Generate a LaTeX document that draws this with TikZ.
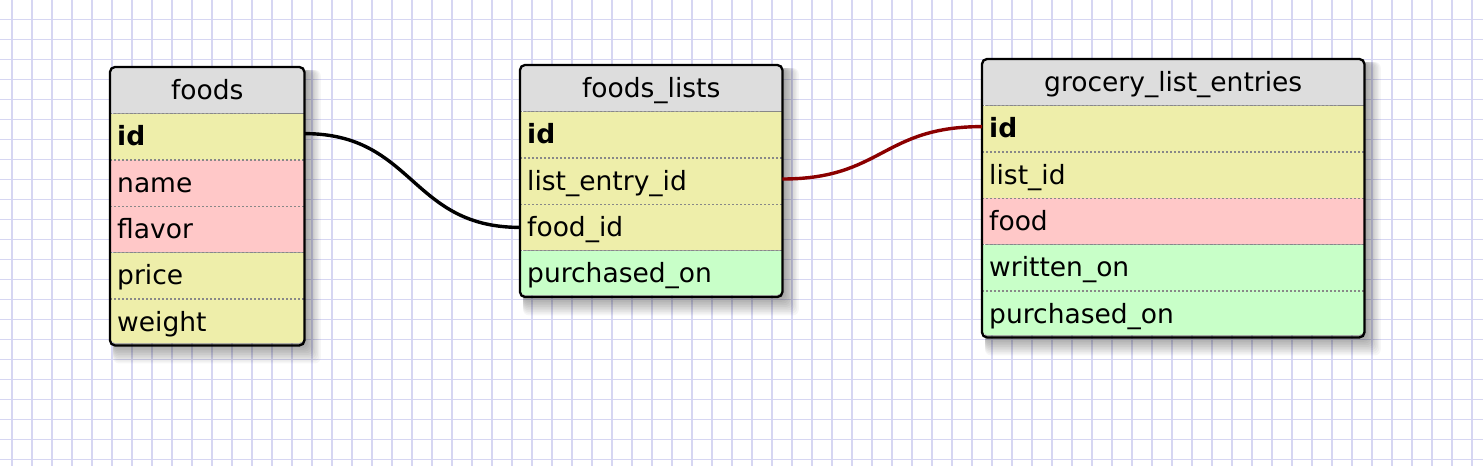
\documentclass[tikz,border=0pt]{standalone}
\usepackage{fontspec}
\setmainfont{DejaVu Sans}
\definecolor{gridc}{RGB}{214,214,242}
\definecolor{headc}{RGB}{221,221,221}
\definecolor{yelc}{RGB}{238,238,170}
\definecolor{pinkc}{RGB}{255,200,200}
\definecolor{greenc}{RGB}{200,255,200}
\definecolor{sepc}{RGB}{136,136,136}
\definecolor{linkred}{RGB}{139,0,0}
\newcommand\tabfont{\fontsize{26.5}{30}\selectfont}
\newcommand\tblshadow[4]{%
  \foreach \r in {1,...,12}{%
    \fill[black, opacity=0.035, rounded corners=6pt] (#1+3,#2+3) rectangle (#3+\r*1.4,#4+\r*1.7);
  }%
}
\begin{document}
\begin{tikzpicture}[x=1pt,y=-1pt,
  gridline/.style={draw=gridc, line width=1.6pt},
  cell/.style={rectangle, anchor=north west, inner xsep=7pt, inner ysep=0pt,
    minimum height=46pt, text height=21pt, text depth=3pt, font=\tabfont,
    align=left, text=black},
  hcell/.style={cell, align=center, fill=headc},
  ycell/.style={cell, fill=yelc},
  pcell/.style={cell, fill=pinkc},
  gcell/.style={cell, fill=greenc},
  sep/.style={draw=sepc, line width=1.4pt, dash pattern=on 2pt off 2pt},
  sepsolid/.style={draw=sepc, line width=1.6pt},
  frame/.style={draw=black, line width=2.3pt, rounded corners=5pt},
  link/.style={line width=3.4pt}
]
\useasboundingbox (0,0) rectangle (1483,466);
\fill[white] (0,0) rectangle (1483,466);
% grid
\foreach \i in {0,...,73}{\draw[gridline] (11.7+20*\i,0) -- (11.7+20*\i,466);}
\foreach \j in {0,...,22}{\draw[gridline] (0,19.5+20*\j) -- (1483,19.5+20*\j);}

% shadows
\tblshadow{110}{67}{304}{343}
\tblshadow{520}{65}{782}{295}
\tblshadow{982}{59}{1364}{335}

% ---- foods ----
\begin{scope}
\clip[rounded corners=5pt] (110,67) rectangle (304,343);
\node[hcell, text width=180pt] (foods-h) at (110,67) {foods};
\node[ycell, text width=180pt] (foods-id) at (foods-h.south west) {\textbf{id}};
\node[pcell, text width=180pt] (foods-name) at (foods-id.south west) {name};
\node[pcell, text width=180pt] (foods-flavor) at (foods-name.south west) {flavor};
\node[ycell, text width=180pt] (foods-price) at (foods-flavor.south west) {price};
\node[ycell, text width=180pt] (foods-weight) at (foods-price.south west) {weight};
\draw[sep] (foods-h.south west) -- ([xshift=-25pt]foods-h.south east);
\draw[sepsolid] ([xshift=-25pt]foods-h.south east) -- (foods-h.south east);
\foreach \n in {id,name,flavor,price}{\draw[sep] (foods-\n.south west) -- (foods-\n.south east);}
\end{scope}
\draw[frame] (foods-h.north west) rectangle (foods-weight.south east);

% ---- foods_lists ----
\begin{scope}
\clip[rounded corners=5pt] (520,65) rectangle (782,295);
\node[hcell, text width=248pt] (fl-h) at (520,65) {foods\_lists};
\node[ycell, text width=248pt] (fl-id) at (fl-h.south west) {\textbf{id}};
\node[ycell, text width=248pt] (fl-le) at (fl-id.south west) {list\_entry\_id};
\node[ycell, text width=248pt] (fl-food) at (fl-le.south west) {food\_id};
\node[gcell, text width=248pt] (fl-po) at (fl-food.south west) {purchased\_on};
\draw[sep] (fl-h.south west) -- ([xshift=-20pt]fl-h.south east);
\draw[sepsolid] ([xshift=-20pt]fl-h.south east) -- (fl-h.south east);
\foreach \n in {id,le,food}{\draw[sep] (fl-\n.south west) -- (fl-\n.south east);}
\end{scope}
\draw[frame] (fl-h.north west) rectangle (fl-po.south east);

% ---- grocery_list_entries ----
\begin{scope}
\clip[rounded corners=5pt] (982,59) rectangle (1364,335);
\node[hcell, text width=368pt] (gle-h) at (982,59) {grocery\_list\_entries};
\node[ycell, text width=368pt] (gle-id) at (gle-h.south west) {\textbf{id}};
\node[ycell, text width=368pt] (gle-list) at (gle-id.south west) {list\_id};
\node[pcell, text width=368pt] (gle-food) at (gle-list.south west) {food};
\node[gcell, text width=368pt] (gle-wo) at (gle-food.south west) {written\_on};
\node[gcell, text width=368pt] (gle-po) at (gle-wo.south west) {purchased\_on};
\draw[sep] (gle-h.south west) -- ([xshift=-24pt]gle-h.south east);
\draw[sepsolid] ([xshift=-24pt]gle-h.south east) -- (gle-h.south east);
\foreach \n in {id,list,food,wo}{\draw[sep] (gle-\n.south west) -- (gle-\n.south east);}
\end{scope}
\draw[frame] (gle-h.north west) rectangle (gle-po.south east);

% connectors
\draw[link, black] ([yshift=3pt]foods-id.east) .. controls +(110,0) and +(-110,0) .. (fl-food.west);
\draw[link, linkred] ([yshift=2pt]fl-le.east) .. controls +(100,0) and +(-100,0) .. ([yshift=2pt]gle-id.west);
\end{tikzpicture}
\end{document}
